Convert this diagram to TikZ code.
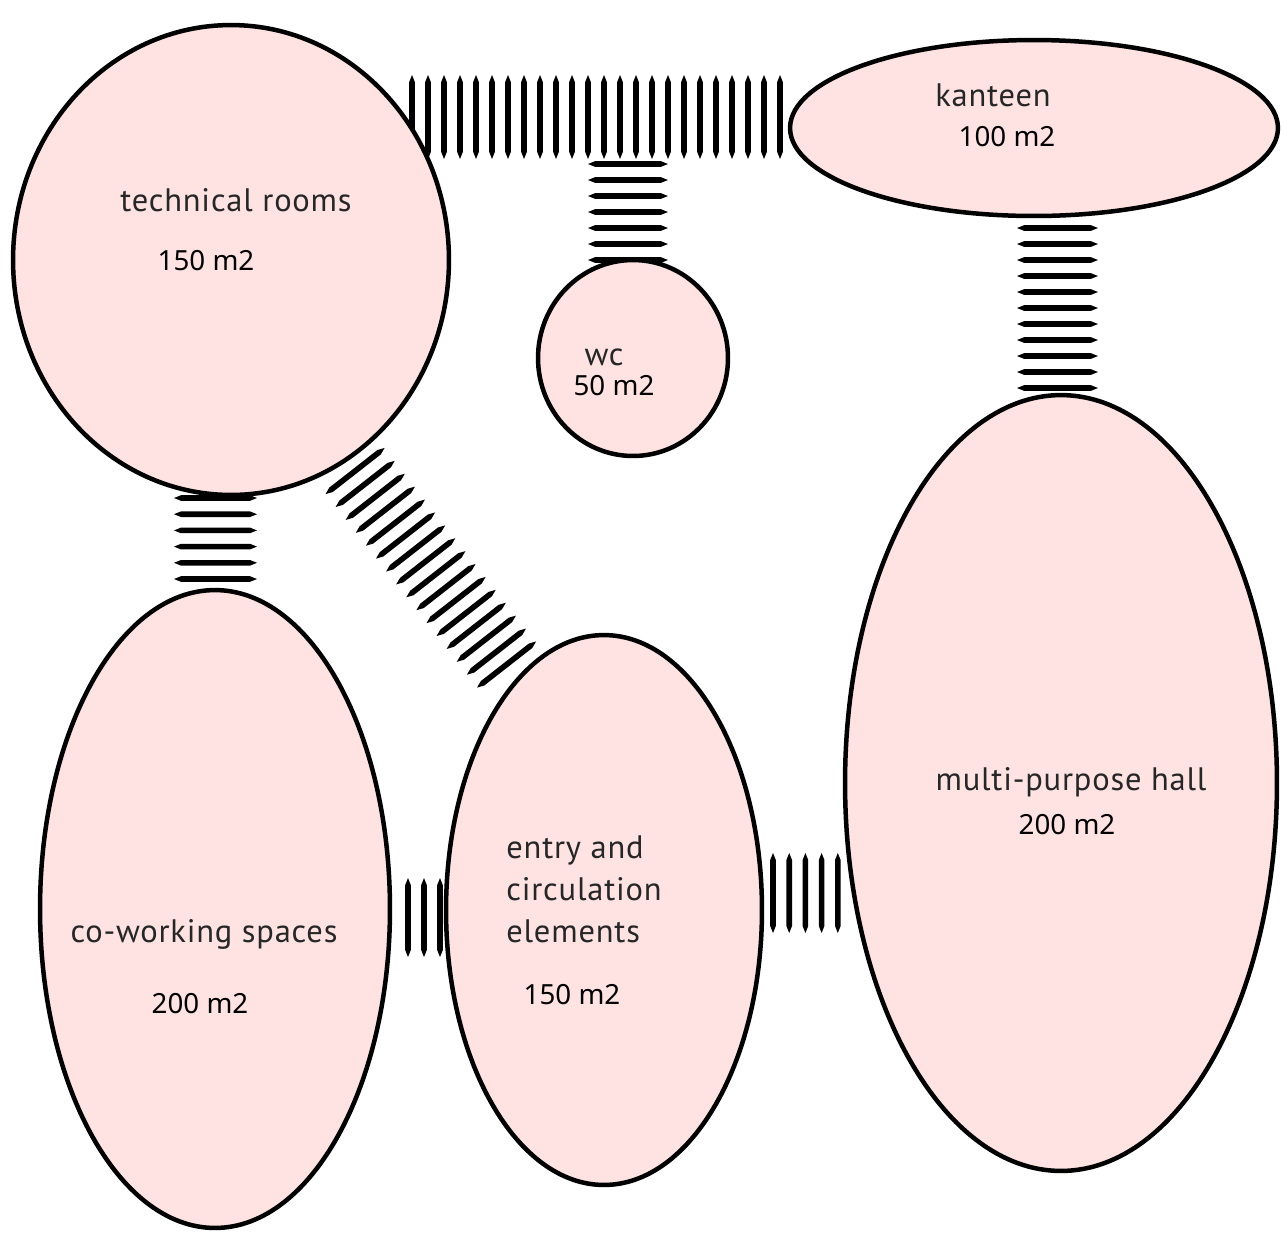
\documentclass[tikz,border=0pt]{standalone}
\usepackage{fontspec}
\setmainfont{Noto Sans}
\newfontfamily\labfont[LetterSpace=2.5]{PT Sans}
\usetikzlibrary{shapes.geometric}
\definecolor{roomfill}{HTML}{FFE2E2}
\definecolor{labgray}{HTML}{262626}
\newcommand\hatchtick[4]{% x y angle length
  \fill[shift={(#1,#2)}, rotate=#3] (0,0) -- (7,2.8) -- (#4-7,2.8) -- (#4,0) -- (#4-7,-2.8) -- (7,-2.8) -- cycle;}
\begin{document}
\begin{tikzpicture}[x=0.02cm,y=-0.02cm,
  room/.style={ellipse, draw=black, line width=0.09cm, fill=roomfill, inner sep=0pt},
  lab/.style={font=\labfont\fontsize{18.5}{24}\selectfont, text=labgray, inner sep=0pt},
  area/.style={font=\fontsize{15.8}{19}\selectfont, text=black, inner sep=0pt}]
\useasboundingbox (0,0) rectangle (1281,1232);
% connectors (hatched bands)
% technical rooms -- kanteen
\foreach \i in {0,...,23} {\hatchtick{412+16*\i}{75}{-90}{84}}
% band -- wc
\foreach \i in {0,...,6} {\hatchtick{588}{164+16*\i}{0}{80}}
% kanteen -- hall
\foreach \i in {0,...,10} {\hatchtick{1017}{228+16*\i}{0}{81}}
% technical -- coworking
\foreach \i in {0,...,5} {\hatchtick{174}{498+16.2*\i}{0}{83}}
% technical -- entry (diagonal)
\foreach \i in {0,...,15} {\hatchtick{355-29.5+10.1*\i}{471+23.1+12.9*\i}{38}{75}}
% coworking -- entry
\foreach \i in {0,...,2} {\hatchtick{408+16*\i}{878}{-90}{79}}
% entry -- hall
\foreach \i in {0,...,4} {\hatchtick{773+16.2*\i}{853}{-90}{80}}
% rooms
\node[room, minimum width=8.72cm, minimum height=9.4cm] (tech) at (231,260) {};
\node[room, minimum width=9.76cm, minimum height=3.52cm] (kant) at (1034,128) {};
\node[room, minimum width=3.8cm, minimum height=3.92cm] (wc) at (633,358) {};
\node[room, minimum width=8.64cm, minimum height=15.52cm] (hall) at (1061,783) {};
\node[room, minimum width=7cm, minimum height=12.76cm] (cowork) at (215,909) {};
\node[room, minimum width=6.32cm, minimum height=11cm] (entry) at (604,910) {};
% texts
\node[lab] (techL) at (236,200) {technical rooms};
\node[area] (techA) at (206,261) {150 m2};
\node[lab] (kantL) at (993,95) {kanteen};
\node[area] (kantA) at (1007,137) {100 m2};
\node[lab] (wcL) at (604,357) {wc};
\node[area] (wcA) at (614,386) {50 m2};
\node[lab] (hallL) at (1071,782) {multi-purpose hall};
\node[area] (hallA) at (1067,825) {200 m2};
\node[lab, anchor=north west, align=left] (entryL) at (506,835) {entry and\\circulation\\elements};
\node[area] (entryA) at (572,995) {150 m2};
\node[lab] (coworkL) at (204,934) {co-working spaces};
\node[area] (coworkA) at (200,1004) {200 m2};
\end{tikzpicture}
\end{document}
